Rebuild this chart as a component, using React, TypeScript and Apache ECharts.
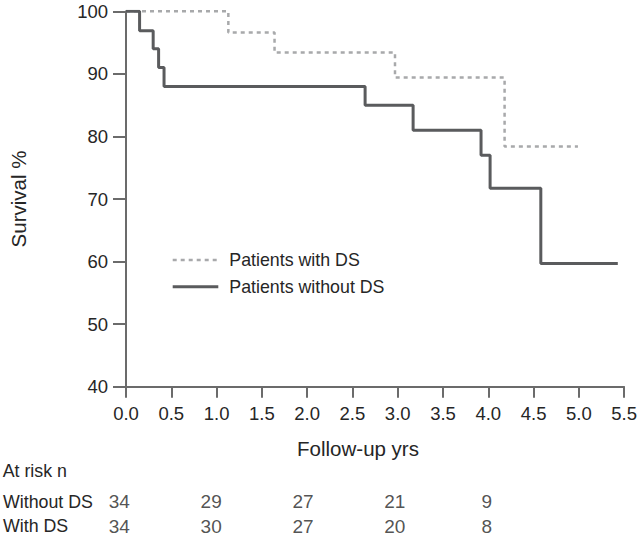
import React, { useEffect, useRef } from "react";
import * as echarts from "echarts";

const xTicks = [0, 0.5, 1, 1.5, 2, 2.5, 3, 3.5, 4, 4.5, 5, 5.5];
const withoutDS: [number, number][] = [
  [0, 100], [0.15, 96.9], [0.30, 94.0], [0.36, 91.0], [0.42, 88.0],
  [2.64, 85.0], [3.17, 81.0], [3.92, 77.0], [4.02, 71.7], [4.58, 59.7], [5.43, 59.7],
];
const withDS: [number, number][] = [
  [0, 100], [1.13, 96.6], [1.64, 93.4], [2.97, 89.4], [4.18, 78.4], [4.99, 78.4],
];
const riskTimes = [0, 1, 2, 3, 4];
const riskWithout = [34, 29, 27, 21, 9];
const riskWith = [34, 30, 27, 20, 8];
const rowNames = ["Without DS", "With DS"];
const seriesNames = ["Patients with DS", "Patients without DS"];

const FONT = "'Liberation Sans', Arial, sans-serif";
const FS = 17.8;
const FS_TICK = 18.5;
const FS_NAME = 20.5;
const FS_NUM = 19;
const TXT = "#262626";
const AX = "#6b6b6b";
const SOLID = "#5a5b5d";
const DASH = "#a8a9ab";

export default function App() {
  const ref = useRef<HTMLDivElement>(null);
  useEffect(() => {
    if (!ref.current) return;
    const chart = echarts.init(ref.current, null, { renderer: "svg" });
    const riskData: any[] = [];
    riskTimes.forEach((t, i) => {
      riskData.push([t, rowNames[0], riskWithout[i]]);
      riskData.push([t, rowNames[1], riskWith[i]]);
    });
    chart.setOption({
      animation: false,
      textStyle: { fontFamily: FONT },
      grid: [
        { left: 119, right: 15.5, top: 11.3, bottom: 158.3 },
        { left: 119, right: 15.5, top: 489.5, height: 49 },
      ],
      xAxis: [
        {
          type: "value", gridIndex: 0, min: 0, max: 5.5, interval: 0.5,
          axisLine: { show: true, onZero: false, lineStyle: { color: AX, width: 2 } },
          axisTick: { show: true, length: 11, lineStyle: { color: AX, width: 2 } },
          axisLabel: { color: TXT, fontSize: FS_TICK, fontFamily: FONT, margin: 17, formatter: (v: number) => v.toFixed(1) },
          splitLine: { show: false },
        },
        {
          type: "value", gridIndex: 1, min: 0, max: 5.5, interval: 0.5,
          axisLine: { show: false }, axisTick: { show: false }, axisLabel: { show: false }, splitLine: { show: false },
        },
      ],
      yAxis: [
        {
          type: "value", gridIndex: 0, min: 40, max: 100, interval: 10,
          name: "Survival %", nameLocation: "middle", nameGap: 97, nameRotate: 90,
          nameTextStyle: { color: TXT, fontSize: FS_NAME, fontFamily: FONT },
          axisLine: { show: true, lineStyle: { color: AX, width: 2 } },
          axisTick: { show: true, length: 13, lineStyle: { color: AX, width: 2 } },
          axisLabel: { color: TXT, fontSize: FS_TICK, fontFamily: FONT, margin: 18 },
          splitLine: { show: false },
        },
        {
          type: "category", gridIndex: 1, data: rowNames, inverse: true,
          axisLine: { show: false }, axisTick: { show: false }, splitLine: { show: false },
          axisLabel: { color: TXT, fontSize: FS, fontFamily: FONT, align: "left", margin: 116.3 },
        },
      ],
      series: [
        {
          name: seriesNames[0], type: "line", step: "end", xAxisIndex: 0, yAxisIndex: 0,
          data: withDS, symbol: "none",
          lineStyle: { color: DASH, width: 2.5, type: [4, 4] }, z: 2,
        },
        {
          name: seriesNames[1], type: "line", step: "end", xAxisIndex: 0, yAxisIndex: 0,
          data: withoutDS, symbol: "none",
          lineStyle: { color: SOLID, width: 3 }, z: 3,
        },
        {
          type: "scatter", xAxisIndex: 1, yAxisIndex: 1, data: riskData,
          symbolSize: 1, itemStyle: { color: "rgba(0,0,0,0)" },
          label: {
            show: true, position: "inside", color: TXT, fontSize: FS_NUM, fontFamily: FONT,
            formatter: (p: any) => String(p.value[2]),
          },
        },
      ],
      graphic: [
        { type: "line", shape: { x1: 172.7, y1: 260, x2: 218.3, y2: 260 }, style: { stroke: DASH, lineWidth: 2.5, lineDash: [4, 4] } },
        { type: "text", x: 229.3, y: 260, style: { text: seriesNames[0], fill: TXT, font: `${FS}px ${FONT}`, verticalAlign: "middle" } },
        { type: "line", shape: { x1: 172.7, y1: 286.7, x2: 218.3, y2: 286.7 }, style: { stroke: SOLID, lineWidth: 3 } },
        { type: "text", x: 229.3, y: 286.7, style: { text: seriesNames[1], fill: TXT, font: `${FS}px ${FONT}`, verticalAlign: "middle" } },
        { type: "text", x: 358, y: 448, style: { text: "Follow-up yrs", fill: TXT, font: `${FS_NAME}px ${FONT}`, align: "center", verticalAlign: "middle" } },
        { type: "text", x: 2.7, y: 471, style: { text: "At risk n", fill: TXT, font: `${FS}px ${FONT}`, verticalAlign: "middle" } },
      ],
    });
    return () => chart.dispose();
  }, []);
  return (
    <div
      ref={ref}
      style={{ position: "fixed", left: 0, top: 0, width: 640, height: 545, background: "#fff" }}
    />
  );
}
